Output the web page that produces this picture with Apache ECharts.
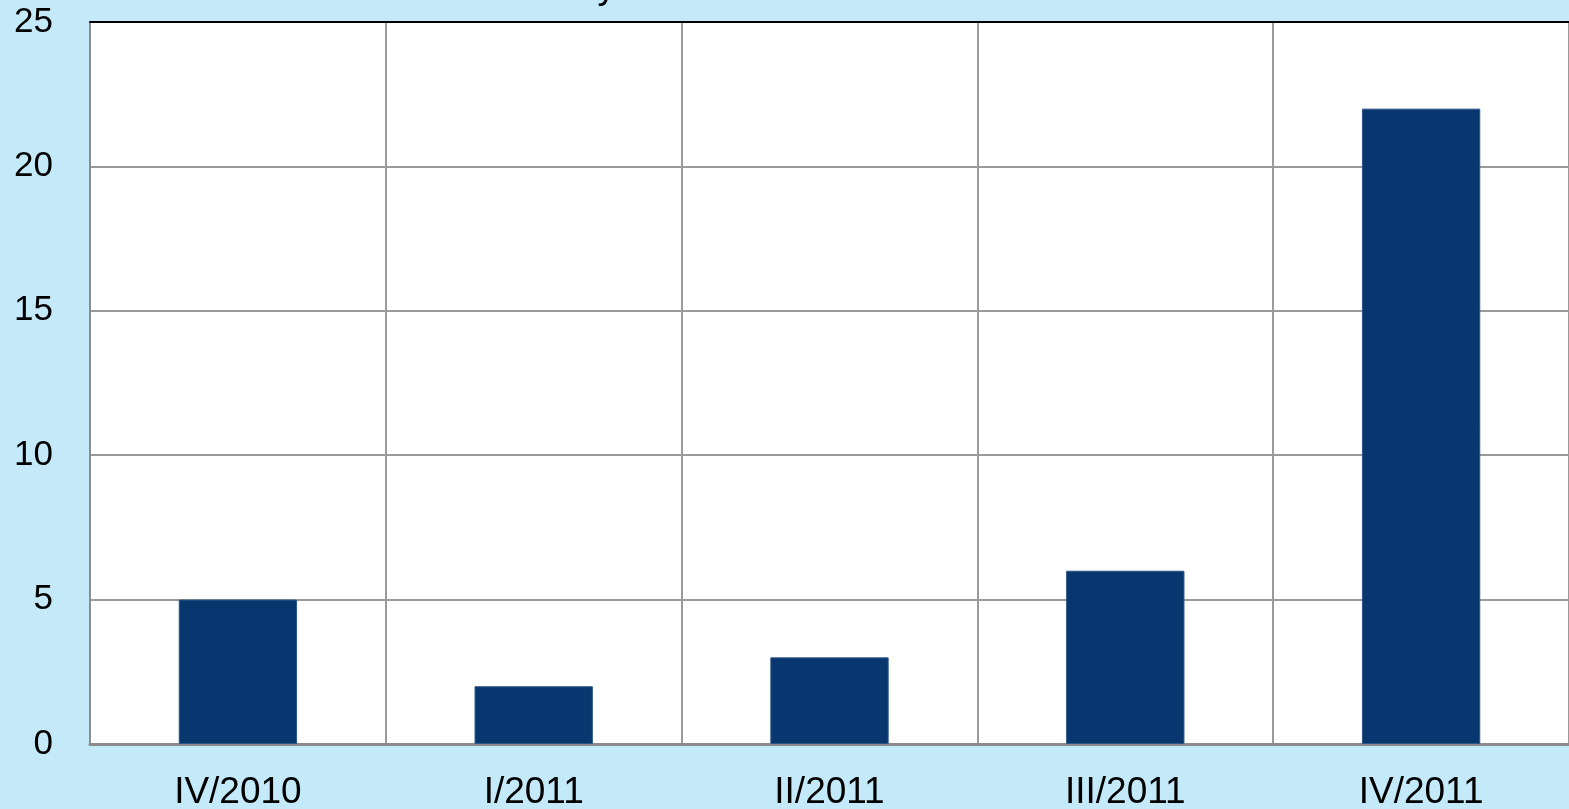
<!DOCTYPE html>
<html>
<head>
<meta charset="utf-8">
<script src="https://cdn.jsdelivr.net/npm/echarts@6/dist/echarts.min.js"></script>
<style>
  html, body { margin: 0; padding: 0; }
  #chart { width: 1569px; height: 809px; background: #c4eafa; }
</style>
</head>
<body>
<div id="chart"></div>
<script>
// quarters and counts
const quarters = ['IV/2010', 'I/2011', 'II/2011', 'III/2011', 'IV/2011'];
const counts = [5, 2, 3, 6, 22];
const yTicks = [0, 5, 10, 15, 20, 25];

const chart = echarts.init(document.getElementById('chart'));

const option = {
  backgroundColor: '#c4eafa',
  textStyle: { fontFamily: 'Liberation Sans, Arial, sans-serif' },
  animation: false,
  // title is cut off at the top edge, only the tail of the "y" shows
  graphic: [{
    type: 'text',
    right: 1569 - 616,
    top: -31,
    style: {
      text: 'Activity',
      font: '37px "Liberation Sans", Arial, sans-serif',
      fill: '#000'
    }
  }],
  grid: {
    left: 90, right: 0, top: 22, bottom: 65,
    outerBoundsMode: 'none',
    show: true, backgroundColor: '#fff', borderWidth: 0
  },
  xAxis: [{
    type: 'category',
    data: quarters,
    axisLine: { show: true, lineStyle: { color: '#8c8c8c', width: 3 } },
    axisTick: { show: false },
    axisLabel: { color: '#000', fontSize: 37, margin: 30 },
    splitLine: { show: true, lineStyle: { color: '#9a9a9a', width: 2 } }
  }, {
    // black border along the top of the plot
    type: 'category',
    position: 'top',
    data: quarters,
    axisLine: { show: true, lineStyle: { color: '#000', width: 2 } },
    axisTick: { show: false },
    axisLabel: { show: false },
    splitLine: { show: false }
  }],
  yAxis: {
    type: 'value',
    min: yTicks[0],
    max: yTicks[yTicks.length - 1],
    interval: 5,
    axisLine: { show: true, lineStyle: { color: '#8c8c8c', width: 2 } },
    axisTick: { show: false },
    axisLabel: { color: '#000', fontSize: 35, margin: 37 },
    splitLine: { show: true, lineStyle: { color: '#9a9a9a', width: 2 } }
  },
  series: [{
    type: 'bar',
    data: counts,
    barWidth: '40%',
    itemStyle: { color: '#08366e', borderColor: '#2a5585', borderWidth: 1 },
    z: 3
  }]
};

chart.setOption(option);
</script>
</body>
</html>
